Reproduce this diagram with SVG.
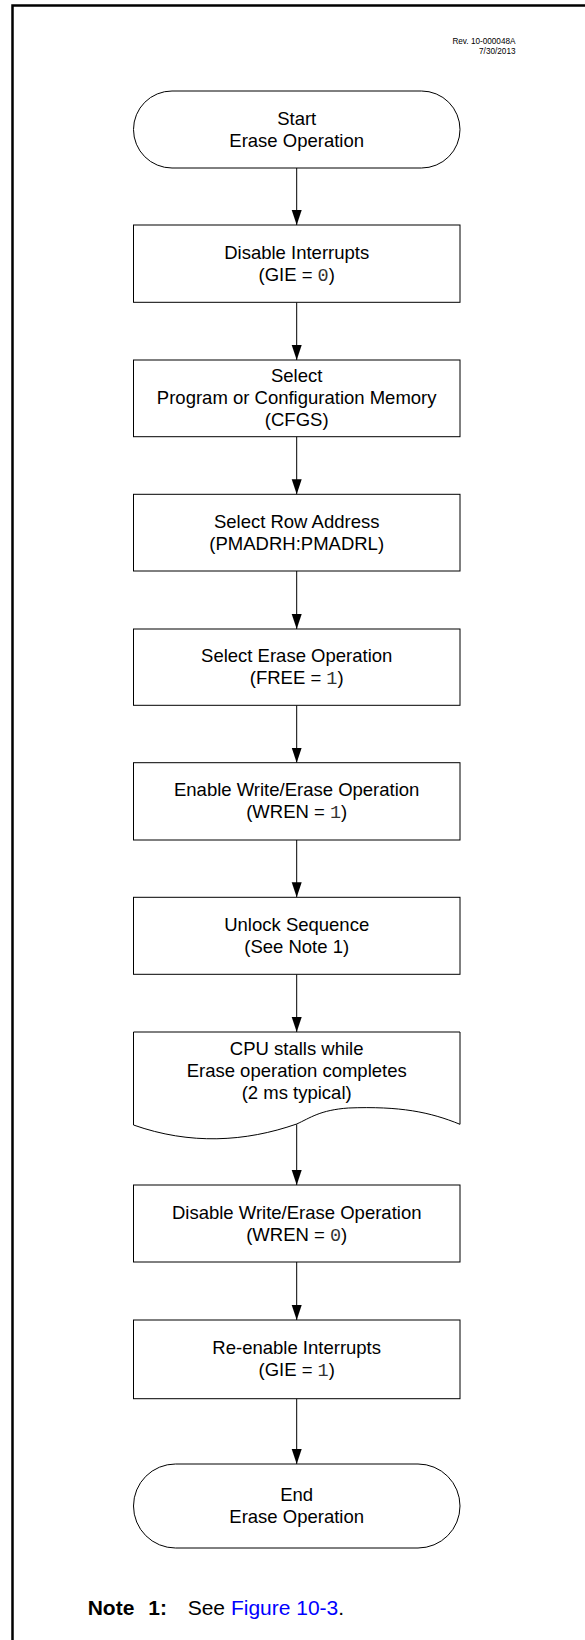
<svg xmlns="http://www.w3.org/2000/svg" width="585" height="1640" viewBox="0 0 585 1640">
<style>
.shape{fill:#fff;stroke:#000;stroke-width:1}
.t{font-family:"Liberation Sans",Arial,sans-serif;font-size:18.5px;fill:#000;text-anchor:middle}
.m{font-family:"Liberation Mono","Courier New",monospace;fill:#333}
.conn{stroke:#000;stroke-width:1;fill:none;marker-end:url(#arr)}
.rev{font-family:"Liberation Sans",Arial,sans-serif;font-size:8.2px;fill:#000;text-anchor:end}
.note{font-family:"Liberation Sans",Arial,sans-serif;font-size:21px;fill:#000}
</style>
<defs>
<marker id="arr" markerUnits="userSpaceOnUse" markerWidth="16" markerHeight="11" refX="15" refY="5" orient="auto">
<path d="M0,0 L15,5 L0,10 Z" fill="#000"/>
</marker>
</defs>
<rect width="585" height="1640" fill="#fff"/>
<path d="M12.5,1640 V5.5 H585" fill="none" stroke="#000" stroke-width="2.5"/>
<text class="rev" x="515.5" y="43.5">Rev. 10-000048A</text>
<text class="rev" x="515.5" y="53.5">7/30/2013</text>

<g id="connectors">
<line class="conn" x1="296.7" y1="168" x2="296.7" y2="225"/>
<line class="conn" x1="296.7" y1="302.3" x2="296.7" y2="360"/>
<line class="conn" x1="296.7" y1="436.7" x2="296.7" y2="494.3"/>
<line class="conn" x1="296.7" y1="571" x2="296.7" y2="629"/>
<line class="conn" x1="296.7" y1="705.3" x2="296.7" y2="762.7"/>
<line class="conn" x1="296.7" y1="840" x2="296.7" y2="897.3"/>
<line class="conn" x1="296.7" y1="974.3" x2="296.7" y2="1032"/>
<line class="conn" x1="296.7" y1="1124.3" x2="296.7" y2="1185"/>
<line class="conn" x1="296.7" y1="1262" x2="296.7" y2="1320"/>
<line class="conn" x1="296.7" y1="1398.7" x2="296.7" y2="1464"/>
</g>

<g id="start">
<rect class="shape" x="133.5" y="91" width="326.5" height="77" rx="38.5" ry="38.5"/>
<text class="t" x="296.7" y="124.5">Start</text>
<text class="t" x="296.7" y="146.5">Erase Operation</text>
</g>

<g id="disable-interrupts">
<rect class="shape" x="133.5" y="225" width="326.5" height="77.3"/>
<text class="t" x="296.7" y="258.6">Disable Interrupts</text>
<text class="t" x="296.7" y="280.6">(GIE = <tspan class="m">0</tspan>)</text>
</g>

<g id="select-memory">
<rect class="shape" x="133.5" y="360" width="326.5" height="76.7"/>
<text class="t" x="296.7" y="382.3">Select</text>
<text class="t" x="296.7" y="404.3">Program or Configuration Memory</text>
<text class="t" x="296.7" y="426.3">(CFGS)</text>
</g>

<g id="select-row">
<rect class="shape" x="133.5" y="494.3" width="326.5" height="76.7"/>
<text class="t" x="296.7" y="527.7">Select Row Address</text>
<text class="t" x="296.7" y="549.7">(PMADRH:PMADRL)</text>
</g>

<g id="select-erase">
<rect class="shape" x="133.5" y="629" width="326.5" height="76.3"/>
<text class="t" x="296.7" y="662.2">Select Erase Operation</text>
<text class="t" x="296.7" y="684.2">(FREE = <tspan class="m">1</tspan>)</text>
</g>

<g id="enable-write">
<rect class="shape" x="133.5" y="762.7" width="326.5" height="77.3"/>
<text class="t" x="296.7" y="796.3">Enable Write/Erase Operation</text>
<text class="t" x="296.7" y="818.3">(WREN = <tspan class="m">1</tspan>)</text>
</g>

<g id="unlock">
<rect class="shape" x="133.5" y="897.3" width="326.5" height="77"/>
<text class="t" x="296.7" y="930.8">Unlock Sequence</text>
<text class="t" x="296.7" y="952.8">(See Note 1)</text>
</g>

<g id="cpu-stall">
<path class="shape" d="M133.5,1032 H460 V1124.3 C430,1112 400,1106 348.4,1108 C320,1110 310,1118 296.7,1124 C245,1142 190,1145 133.5,1125 Z"/>
<text class="t" x="296.7" y="1054.5">CPU stalls while</text>
<text class="t" x="296.7" y="1076.5">Erase operation completes</text>
<text class="t" x="296.7" y="1098.5">(2 ms typical)</text>
</g>

<g id="disable-write">
<rect class="shape" x="133.5" y="1185" width="326.5" height="77"/>
<text class="t" x="296.7" y="1218.5">Disable Write/Erase Operation</text>
<text class="t" x="296.7" y="1240.5">(WREN = <tspan class="m">0</tspan>)</text>
</g>

<g id="reenable">
<rect class="shape" x="133.5" y="1320" width="326.5" height="78.7"/>
<text class="t" x="296.7" y="1354.3">Re-enable Interrupts</text>
<text class="t" x="296.7" y="1376.3">(GIE = <tspan class="m">1</tspan>)</text>
</g>

<g id="end">
<rect class="shape" x="133.5" y="1464" width="326.5" height="84" rx="42" ry="42"/>
<text class="t" x="296.7" y="1501">End</text>
<text class="t" x="296.7" y="1523">Erase Operation</text>
</g>

<g id="note">
<text class="note" x="87.7" y="1615" font-weight="bold">Note</text>
<text class="note" x="148.3" y="1615" font-weight="bold">1:</text>
<text class="note" x="187.7" y="1615">See <tspan fill="#0000ff">Figure 10-3</tspan>.</text>
</g>
</svg>
